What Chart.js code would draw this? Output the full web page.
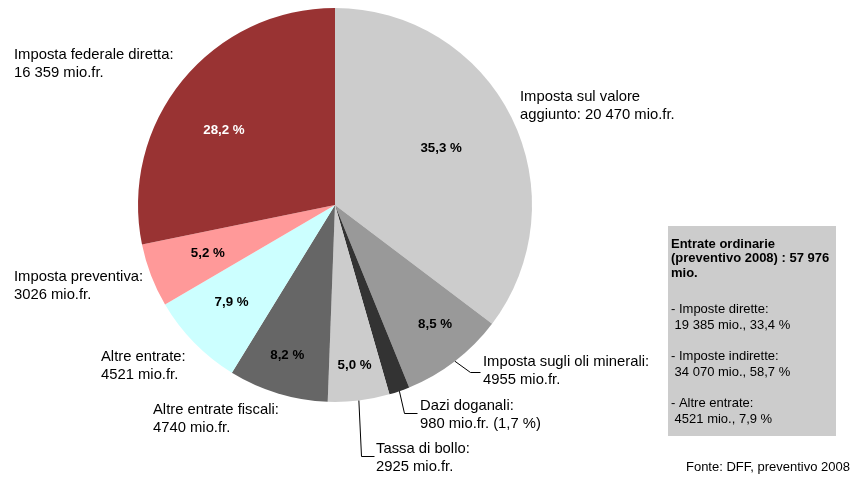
<!DOCTYPE html>
<html>
<head>
<meta charset="utf-8">
<script src="https://cdn.jsdelivr.net/npm/chart.js@4.4.0/dist/chart.umd.min.js"></script>
<style>
  html, body { margin: 0; padding: 0; background: #ffffff; }
  canvas { display: block; }
</style>
</head>
<body>
<canvas id="revenueChart" width="851" height="478"></canvas>
<script>
// Entrate ordinarie, preventivo 2008 (mio. fr.)
const categories = [
    ['Imposta sul valore', 'aggiunto'],
    ['Imposta sugli oli minerali'],
    ['Dazi doganali'],
    ['Tassa di bollo'],
    ['Altre entrate fiscali'],
    ['Altre entrate'],
    ['Imposta preventiva'],
    ['Imposta federale diretta']
];
const values = [20470, 4955, 980, 2925, 4740, 4521, 3026, 16359];
const shares = ['35,3', '8,5', '1,7', '5,0', '8,2', '7,9', '5,2', '28,2'];
const colors = ['#cccccc', '#999999', '#333333', '#cccccc', '#666666', '#ccffff', '#ff9999', '#993333'];

const boxTitle = ['Entrate ordinarie', '(preventivo 2008) : 57 976', 'mio.'];
const boxGroups = [
    ['- Imposte dirette:', ' 19 385 mio., 33,4 %'],
    ['- Imposte indirette:', ' 34 070 mio., 58,7 %'],
    ['- Altre entrate:', ' 4521 mio., 7,9 %']
];
const source = 'Fonte: DFF, preventivo 2008';

function fmt(v) {
    return v >= 10000 ? String(v).replace(/(\d)(?=(\d{3})$)/, '$1 ') : String(v);
}

// outer label placement: x, y of first line, optional leader bends
const labelPos = [
    { x: 520, y: 97 },
    { x: 483, y: 362, leader: [[470, 372], [480, 372]] },
    { x: 420, y: 406, leader: [[404, 413], [417, 413]] },
    { x: 376, y: 449, leader: [[361, 456], [374, 456]] },
    { x: 153, y: 410 },
    { x: 101, y: 357 },
    { x: 14, y: 277 },
    { x: 14, y: 55 }
];
// radial position of the percent labels (fraction of radius) and angle tweak
const innerR = [0.61, 0.79, 0, 0.82, 0.80, 0.72, 0.69, 0.68];
const innerShift = [-1.5, -2.5, 0, 0, 0.8, 1.2, 0.3, -5.2];

const labelsPlugin = {
    id: 'labelsPlugin',
    afterDatasetsDraw(chart) {
        const ctx = chart.ctx;
        const arcs = chart.getDatasetMeta(0).data;
        ctx.save();
        ctx.textBaseline = 'middle';
        arcs.forEach((arc, i) => {
            const p = arc.getProps(['x', 'y', 'startAngle', 'endAngle', 'outerRadius'], true);
            const mid = (p.startAngle + p.endAngle) / 2;
            // percent labels
            if (innerR[i] > 0) {
                const a = mid + innerShift[i] * Math.PI / 180;
                const r = p.outerRadius * innerR[i];
                ctx.font = 'bold 13.3px "Liberation Sans", Arial, sans-serif';
                ctx.fillStyle = i === 7 ? '#ffffff' : '#000000';
                ctx.textAlign = 'center';
                ctx.fillText(shares[i] + ' %', p.x + Math.cos(a) * r, p.y + Math.sin(a) * r);
            }
            // outer labels
            const lp = labelPos[i];
            const lines = categories[i].slice();
            lines[lines.length - 1] += ':';
            let last = fmt(values[i]) + ' mio.fr.';
            if (i === 2) last += ' (' + shares[i] + ' %)';
            if (lines.length > 1) {
                lines[1] = lines[1] + ' ' + last;
            } else {
                lines.push(last);
            }
            ctx.font = '14.8px "Liberation Sans", Arial, sans-serif';
            ctx.fillStyle = '#000000';
            ctx.textAlign = 'left';
            lines.forEach((t, k) => ctx.fillText(t, lp.x, lp.y + k * 18));
            if (lp.leader) {
                ctx.beginPath();
                ctx.strokeStyle = '#000000';
                ctx.lineWidth = 1;
                ctx.moveTo(p.x + Math.cos(mid) * p.outerRadius, p.y + Math.sin(mid) * p.outerRadius);
                lp.leader.forEach(pt => ctx.lineTo(pt[0] + 0.5, pt[1] + 0.5));
                ctx.stroke();
            }
        });

        // summary box
        ctx.fillStyle = '#cccccc';
        ctx.fillRect(668, 226, 168, 210);
        ctx.fillStyle = '#000000';
        ctx.textAlign = 'left';
        ctx.font = 'bold 13px "Liberation Sans", Arial, sans-serif';
        boxTitle.forEach((t, k) => ctx.fillText(t, 671, 244 + k * 14.6));
        ctx.font = '13px "Liberation Sans", Arial, sans-serif';
        boxGroups.forEach((g, k) => {
            g.forEach((t, j) => ctx.fillText(t, 671, 309 + k * 47 + j * 16));
        });

        ctx.textAlign = 'right';
        ctx.fillText(source, 850, 467);
        ctx.restore();
    }
};

const ctx = document.getElementById('revenueChart').getContext('2d');
new Chart(ctx, {
    type: 'pie',
    data: {
        labels: categories.map(c => c.join(' ')),
        datasets: [{
            data: values,
            backgroundColor: colors,
            borderWidth: 0
        }]
    },
    options: {
        responsive: false,
        animation: false,
        layout: {
            padding: { left: 138, right: 319, top: 8, bottom: 76 }
        },
        plugins: {
            legend: { display: false },
            tooltip: { enabled: false }
        }
    },
    plugins: [labelsPlugin]
});
</script>
</body>
</html>
